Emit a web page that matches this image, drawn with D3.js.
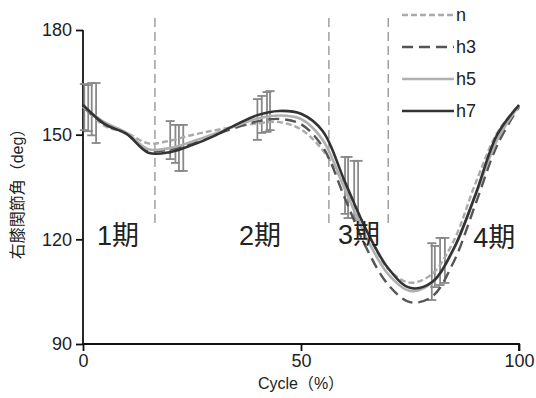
<!DOCTYPE html>
<html>
<head>
<meta charset="utf-8">
<script src="https://cdn.jsdelivr.net/npm/d3@7"></script>
<style>
  body { margin: 0; background: #fff; }
  svg { display: block; font-family: "Liberation Sans", Arial, sans-serif; }
</style>
</head>
<body>
<div id="chart"></div>
<script>
// cycle (%) sample points
const cycle = [0, 5, 10, 15, 20, 25, 30, 35, 40, 45, 50, 55, 60, 65, 70, 75, 80, 85, 90, 95, 100];

// knee angle (deg) per condition
const seriesN  = [158, 152.5, 150.5, 147.5, 148.3, 149.9, 151.2, 152.3, 153.2, 153.6, 151.5, 145.5, 135.5, 122.7, 111.5, 107.6, 110, 119.5, 136, 150.5, 158.5];
const seriesH3 = [158, 153, 150.3, 145.5, 145.8, 147.5, 149.8, 152, 153.8, 154.5, 153, 146.5, 132, 117.5, 107, 102, 103.5, 113.5, 130, 147, 158];
const seriesH5 = [158, 153.5, 150.5, 145.8, 146.2, 148, 150.2, 152.5, 154.6, 155.5, 154.5, 148.5, 134.5, 120.5, 110, 105.2, 107.5, 117, 132.5, 148.5, 158.3];
const seriesH7 = [158.5, 153, 150.2, 144.8, 145, 147, 149.6, 152.8, 155.6, 156.8, 156, 151, 136.7, 122.6, 111.7, 106.1, 107.7, 117.3, 132.8, 150, 158.5];

// error bars: position, upper and lower end
const errX    = [0.3, 1.2, 2.0, 3.0, 20, 21.2, 22, 23, 40, 41, 42.2, 42.9, 60.1, 60.8, 62.2, 63.1, 80, 80.7, 81.9, 83];
const errHigh = [164.5, 164.2, 164.8, 164.8, 153.9, 152.8, 152.8, 152.8, 160.2, 161.1, 162.2, 162.5, 143.6, 143.6, 142.5, 142.5, 118.9, 118.1, 120.4, 120.4];
const errLow  = [151.3, 151.0, 149.8, 147.6, 143, 141.9, 139.6, 139.6, 148.5, 150.5, 150.8, 151.3, 127.3, 126.1, 126.1, 125.5, 102.6, 106.3, 106.9, 107.5];

// phase borders and labels
const phaseLines = [16.5, 56.4, 70];
const phaseLabels = ["1期", "2期", "3期", "4期"];
const phaseLabelX = [3.2, 35.8, 58.5, 89.5];
const phaseLabelY = [118.3, 118.3, 118.8, 117.7];

const yTicks = [90, 120, 150, 180];
const xTicks = [0, 50, 100];

const width = 536, height = 398;
const svg = d3.select("#chart").append("svg")
  .attr("width", width).attr("height", height);

const x = d3.scaleLinear().domain([0, 100]).range([83, 519]);
const y = d3.scaleLinear().domain([90, 180]).range([344, 30]);

// phase dividers
svg.append("g").selectAll("line")
  .data(phaseLines)
  .join("line")
    .attr("x1", d => x(d)).attr("x2", d => x(d))
    .attr("y1", 18).attr("y2", 228)
    .attr("stroke", "#888")
    .attr("stroke-width", 1.2)
    .attr("stroke-dasharray", "9,5");

// axes
const xAxis = svg.append("g")
  .attr("transform", "translate(0," + y(90) + ")")
  .call(d3.axisBottom(x).tickValues(xTicks).tickSize(7).tickPadding(3));
const yAxis = svg.append("g")
  .attr("transform", "translate(" + x(0) + ",0)")
  .call(d3.axisLeft(y).tickValues(yTicks).tickSize(7).tickPadding(4));

[xAxis, yAxis].forEach(a => {
  a.select(".domain").attr("stroke", "#111").attr("stroke-width", 1.8);
  a.selectAll(".tick line").attr("stroke", "#111").attr("stroke-width", 1.8);
  a.selectAll("text").attr("font-size", 18).attr("fill", "#222")
    .attr("font-family", "Liberation Sans, Arial, sans-serif");
});
xAxis.select(".domain").attr("d", "M" + x(0) + ",0H" + x(100) + "V7");
yAxis.select(".domain").attr("d", "M0," + y(180) + "V" + y(90));

// axis titles
svg.append("text")
  .attr("x", x(50)).attr("y", 389)
  .attr("text-anchor", "middle")
  .attr("font-size", 16).attr("fill", "#222")
  .attr("font-family", "Liberation Sans, Noto Sans CJK JP, sans-serif")
  .text("Cycle（%）");

svg.append("text")
  .attr("transform", "translate(23,190) rotate(-90)")
  .attr("text-anchor", "middle")
  .attr("font-size", 16).attr("fill", "#222")
  .attr("font-family", "Liberation Sans, Noto Sans CJK JP, sans-serif")
  .text("右膝関節角（deg）");

// error bars
const eb = svg.append("g").attr("stroke", "#888").attr("stroke-width", 1.8);
errX.forEach((d, i) => {
  const px = x(d);
  eb.append("line").attr("x1", px).attr("x2", px).attr("y1", y(errHigh[i])).attr("y2", y(errLow[i]));
  eb.append("line").attr("x1", px - 4.5).attr("x2", px + 4.5).attr("y1", y(errHigh[i])).attr("y2", y(errHigh[i]));
  eb.append("line").attr("x1", px - 4.5).attr("x2", px + 4.5).attr("y1", y(errLow[i])).attr("y2", y(errLow[i]));
});

// lines
const series = [
  { name: "n",  values: seriesN,  color: "#aaa", width: 2.4, dash: "6,3" },
  { name: "h3", values: seriesH3, color: "#555", width: 2.4, dash: "11,6" },
  { name: "h5", values: seriesH5, color: "#b0b0b0", width: 2.6, dash: null },
  { name: "h7", values: seriesH7, color: "#333", width: 2.6, dash: null }
];

const line = d3.line()
  .x((d, i) => x(cycle[i]))
  .y(d => y(d))
  .curve(d3.curveCatmullRom.alpha(0.5));

svg.append("g").selectAll("path")
  .data(series)
  .join("path")
    .attr("d", d => line(d.values))
    .attr("fill", "none")
    .attr("stroke", d => d.color)
    .attr("stroke-width", d => d.width)
    .attr("stroke-dasharray", d => d.dash);

// phase labels
svg.append("g").selectAll("text")
  .data(phaseLabels)
  .join("text")
    .attr("x", (d, i) => x(phaseLabelX[i]))
    .attr("y", (d, i) => y(phaseLabelY[i]))
    .attr("font-size", 27)
    .attr("fill", "#222")
    .attr("font-family", "Liberation Sans, Noto Sans CJK JP, sans-serif")
    .text(d => d);

// legend
const legend = svg.append("g").selectAll("g")
  .data(series)
  .join("g")
    .attr("transform", (d, i) => "translate(402," + (15 + i * 32) + ")");
legend.append("line")
  .attr("x1", 0).attr("x2", 52)
  .attr("stroke", d => d.color)
  .attr("stroke-width", d => d.width)
  .attr("stroke-dasharray", d => d.dash);
legend.append("text")
  .attr("x", 54).attr("y", 6)
  .attr("font-size", 18).attr("fill", "#222")
  .text(d => d.name);
</script>
</body>
</html>
